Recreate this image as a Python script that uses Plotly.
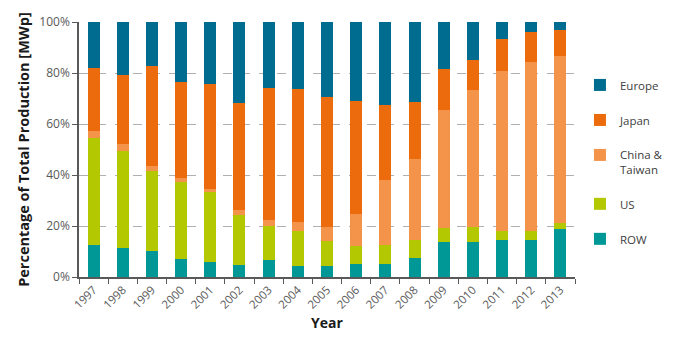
import plotly.graph_objects as go

years = [str(y) for y in range(1997, 2014)]
row = [12.6, 11.5, 10.2, 7.0, 5.7, 4.8, 6.8, 4.3, 4.5, 5.1, 5.1, 7.4, 13.9, 13.7, 14.6, 14.6, 18.9]
us = [42.1, 38.1, 31.2, 30.2, 27.7, 19.5, 13.2, 13.7, 9.7, 7.0, 7.6, 7.3, 5.3, 6.0, 3.3, 3.3, 2.1]
china = [2.6, 2.6, 2.3, 1.7, 1.2, 2.1, 2.3, 3.7, 5.6, 12.6, 25.4, 31.4, 46.4, 53.8, 63.0, 66.3, 65.8]
japan = [24.7, 26.9, 39.1, 37.7, 41.1, 42.0, 52.0, 52.2, 50.9, 44.5, 29.5, 22.7, 16.0, 11.5, 12.3, 11.9, 10.2]
europe = [18.0, 20.9, 17.2, 23.4, 24.3, 31.6, 25.7, 26.1, 29.3, 30.8, 32.4, 31.2, 18.4, 15.0, 6.8, 3.9, 3.0]

y_tickvals = [0, 20, 40, 60, 80, 100]
y_ticktext = ["0%", "20%", "40%", "60%", "80%", "100%"]

series = [
    ("ROW", row, "#009797"),
    ("US", us, "#b3c800"),
    ("China &<br>Taiwan", china, "#f4934a"),
    ("Japan", japan, "#ec6b0d"),
    ("Europe", europe, "#006c8f"),
]

font = "Open Sans, Noto Sans, sans-serif"
fig = go.Figure()
n = len(series)
for i, (name, vals, col) in enumerate(series):
    fig.add_trace(go.Bar(x=years, y=vals, name=name, marker=dict(color=col, line=dict(width=0)),
                         legendgroup="g%d" % (n - i), legendrank=n - i))

fig.update_layout(
    barmode="stack",
    bargap=0.59,
    width=680, height=338,
    margin=dict(l=79, r=81, t=22, b=61),
    paper_bgcolor="white", plot_bgcolor="white",
    font=dict(family=font, size=11, color="#595959"),
    legend=dict(x=1.01, y=0.808, xanchor="left", yanchor="top", traceorder="grouped",
                tracegroupgap=16, valign="top", font=dict(size=11.5, color="#404040"),
                itemwidth=30),
    showlegend=True,
)
fig.update_xaxes(
    type="category", tickangle=-45, tickson="boundaries", ticks="outside", ticklen=5,
    tickcolor="#595959", showline=True, linecolor="#595959", linewidth=1.5,
    tickfont=dict(size=11.5, color="#595959"), automargin=False,
    title=dict(text="<b>Year</b>", font=dict(size=14, color="#1a1a1a"), standoff=8),
)
fig.update_yaxes(
    range=[0, 100], tickvals=y_tickvals, ticktext=y_ticktext,
    ticks="outside", ticklen=5, tickcolor="#595959", showline=True, linecolor="#595959", linewidth=1.5,
    showgrid=True, gridcolor="#b0b0b0", griddash="dash", gridwidth=1,
    tickfont=dict(size=12, color="#595959"), automargin=False,
    title=dict(text="<b>Percentage of Total Production [MWp]</b>", font=dict(size=14.5, color="#1a1a1a"), standoff=6),
    zeroline=False,
)

fig.write_html("out.html")
